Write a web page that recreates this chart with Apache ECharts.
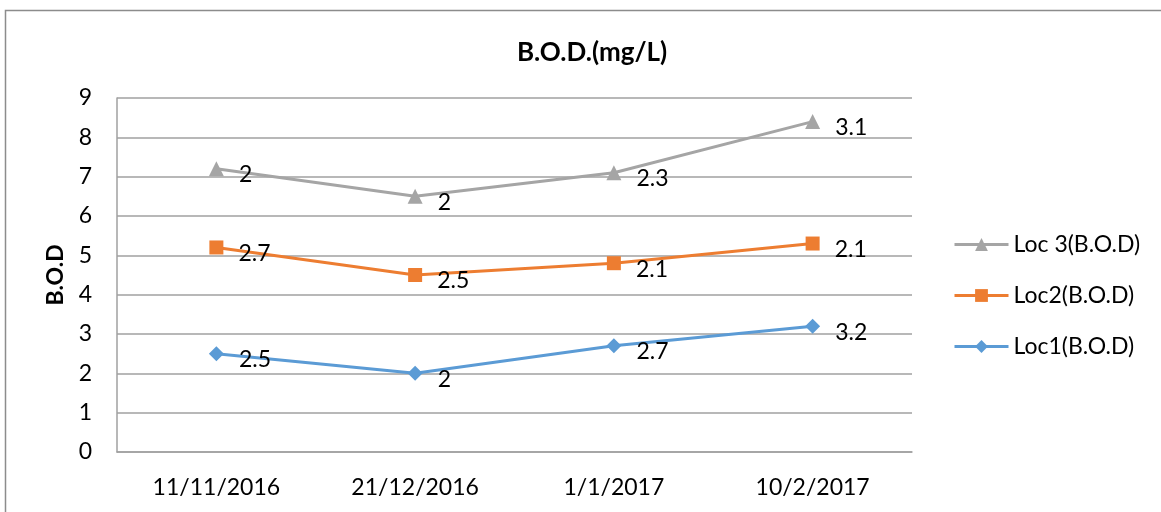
<!DOCTYPE html>
<html><head><meta charset="utf-8">
<script src="https://cdn.jsdelivr.net/npm/echarts@6/dist/echarts.min.js"></script>
<style>html,body{margin:0;padding:0;background:#fff}#c{width:1161px;height:512px}</style>
</head><body><div id="c"></div>
<script>
const categories = ['11/11/2016', '21/12/2016', '1/1/2017', '10/2/2017'];
const loc1 = [2.5, 2, 2.7, 3.2];
const loc2 = [2.7, 2.5, 2.1, 2.1];
const loc3 = [2, 2, 2.3, 3.1];
const yTicks = [0, 1, 2, 3, 4, 5, 6, 7, 8, 9];

const FONT = "Lato, 'Open Sans', sans-serif";
const chart = echarts.init(document.getElementById('c'));
const lbl = {
  show: true, position: 'right', distance: 15, offset: [0, 6],
  color: '#000', fontSize: 23, fontFamily: FONT
};
function mk(name, data, color, symbol, size) {
  return {
    name, type: 'line', stack: 'total', data, symbol, symbolSize: size,
    lineStyle: { color, width: 3 }, itemStyle: { color },
    label: lbl, animation: false
  };
}
chart.setOption({
  animation: false,
  title: {
    text: 'B.O.D.(mg/L)', left: 512, top: 35,
    textStyle: { fontSize: 26, fontWeight: 'bold', color: '#000', fontFamily: FONT }
  },
  graphic: [{
    type: 'rect', shape: { x: 5.5, y: 10.5, width: 1170, height: 520 },
    style: { fill: 'none', stroke: '#8c8c8c', lineWidth: 1.5 }, silent: true
  }],
  legend: {
    orient: 'vertical', left: 948, top: 228, itemGap: 28,
    itemWidth: 54, itemHeight: 16,
    lineStyle: { width: 3 },
    data: ['Loc 3(B.O.D)', 'Loc2(B.O.D)', 'Loc1(B.O.D)'],
    textStyle: { fontSize: 23, color: '#000', fontFamily: FONT }
  },
  grid: { left: 117, right: 249, top: 98, bottom: 60, containLabel: false },
  xAxis: {
    type: 'category', data: categories, boundaryGap: true,
    axisLine: { lineStyle: { color: '#a0a0a0', width: 1.5 } },
    axisTick: { show: false },
    axisLabel: { fontSize: 23, color: '#000', margin: 24, fontFamily: FONT }
  },
  yAxis: {
    type: 'value', min: yTicks[0], max: yTicks[yTicks.length - 1], interval: 1,
    name: 'B.O.D', nameLocation: 'middle', nameGap: 50, nameRotate: 90,
    nameTextStyle: { fontSize: 23, fontWeight: 'bold', color: '#000', fontFamily: FONT },
    axisLine: { show: true, lineStyle: { color: '#a0a0a0', width: 1.5 } },
    axisTick: { show: false },
    axisLabel: { fontSize: 23, color: '#000', margin: 25, fontFamily: FONT },
    splitLine: { lineStyle: { color: '#a0a0a0', width: 1.5 } }
  },
  series: [
    mk('Loc1(B.O.D)', loc1, '#5B9BD5', 'diamond', 15),
    mk('Loc2(B.O.D)', loc2, '#ED7D31', 'rect', 14),
    mk('Loc 3(B.O.D)', loc3, '#A5A5A5', 'triangle', 15)
  ]
});
</script></body></html>
